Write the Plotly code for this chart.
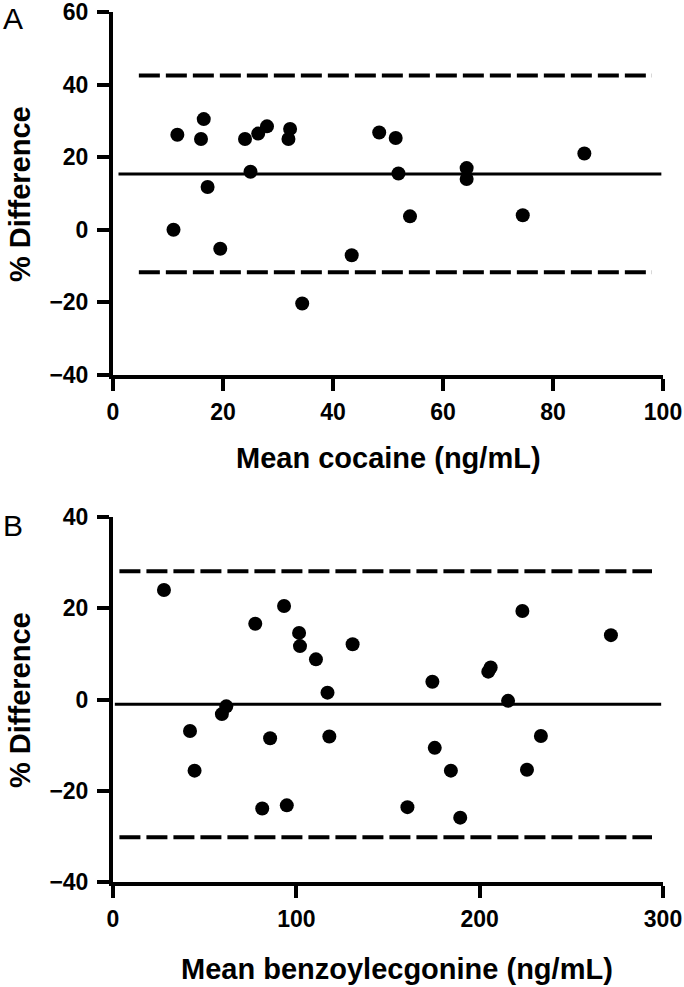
import plotly.graph_objects as go

# --- Panel A: cocaine ---
cocaine_mean = [11.7, 16.5, 16.0, 17.2, 24.0, 25.0, 26.4, 28.0, 32.2, 31.9,
                48.4, 51.4, 51.9, 64.3, 64.3, 85.7,
                11.0, 19.5, 34.4, 43.4, 54.0, 74.5]
cocaine_diff = [26.2, 30.5, 25.0, 11.8, 25.0, 16.0, 26.5, 28.5, 27.8, 25.0,
                26.8, 25.3, 15.5, 17.0, 14.0, 21.0,
                0.0, -5.2, -20.3, -7.0, 3.7, 4.0]
cocaine_bias = 15.4
cocaine_loa = [42.5, -11.7]
cocaine_bias_x = [1, 99.7]
cocaine_loa_x = [4.7, 98]

# --- Panel B: benzoylecgonine ---
bze_mean = [27.8, 77.6, 93.3, 101.5, 102.0, 110.7, 117.0,
            130.7, 174.2, 206.0, 204.7, 223.3, 271.6,
            42.0, 44.5, 59.4, 61.8, 81.4, 85.7, 94.8, 118.0,
            160.6, 175.5, 184.3, 189.4, 215.5, 225.8, 233.4]
bze_diff = [24.0, 16.6, 20.5, 14.6, 11.7, 8.8, 1.5,
            12.1, 3.9, 7.0, 6.1, 19.4, 14.1,
            -6.9, -15.6, -3.2, -1.5, -23.9, -8.5, -23.2, -8.1,
            -23.6, -10.6, -15.6, -25.9, -0.3, -15.4, -8.0]
bze_bias = -1.05
bze_loa = [28.1, -30.2]
bze_bias_x = [1, 299]
bze_loa_x = [3.5, 294]

W, H = 684, 987
FONT = "Liberation Sans, Arial, sans-serif"


# pixel -> paper fraction
def px_x(p):
    return p / W


def px_y(p):
    return 1 - p / H


fig = go.Figure()


def add_panel(xs, ys, bias, loa, bias_x, loa_x, xa, ya):
    fig.add_trace(go.Scatter(
        x=xs, y=ys, mode="markers", xaxis=xa, yaxis=ya,
        marker=dict(color="black", size=14),
    ))
    fig.add_trace(go.Scatter(
        x=bias_x, y=[bias, bias], mode="lines", xaxis=xa, yaxis=ya,
        line=dict(color="black", width=3),
    ))
    for v in loa:
        fig.add_trace(go.Scatter(
            x=loa_x, y=[v, v], mode="lines", xaxis=xa, yaxis=ya,
            line=dict(color="black", width=4, dash="21px,6px"),
        ))


add_panel(cocaine_mean, cocaine_diff, cocaine_bias, cocaine_loa,
          cocaine_bias_x, cocaine_loa_x, "x", "y")
add_panel(bze_mean, bze_diff, bze_bias, bze_loa,
          bze_bias_x, bze_loa_x, "x2", "y2")

axis_common = dict(
    showline=True, linecolor="black", linewidth=4,
    ticks="outside", ticklen=12, tickwidth=4, tickcolor="black",
    showgrid=False, zeroline=False, automargin=False,
    ticklabeloverflow="allow",
    tickfont=dict(family=FONT, size=23, color="black", weight="bold"),
)

fig.update_layout(
    width=W, height=H,
    margin=dict(l=0, r=0, t=0, b=0, autoexpand=False),
    plot_bgcolor="white", paper_bgcolor="white",
    showlegend=False,
    xaxis=dict(domain=[px_x(113), px_x(663)], range=[0, 100],
               tickvals=[0, 20, 40, 60, 80, 100], anchor="y",
               ticklabelstandoff=1, **axis_common),
    yaxis=dict(domain=[px_y(375), px_y(12)], range=[-40, 60],
               tickvals=[-40, -20, 0, 20, 40, 60], anchor="x",
               ticklabelstandoff=4, **axis_common),
    xaxis2=dict(domain=[px_x(113), px_x(663)], range=[0, 300],
                tickvals=[0, 100, 200, 300], anchor="y2",
                ticklabelstandoff=1, **axis_common),
    yaxis2=dict(domain=[px_y(882), px_y(517)], range=[-40, 40],
                tickvals=[-40, -20, 0, 20, 40], anchor="x2",
                ticklabelstandoff=4, **axis_common),
)

bold = dict(family=FONT, size=29, color="black", weight="bold")
plain = dict(family=FONT, size=30, color="black")

annots = [
    ("A", 1, 0, "left", "top", 0, plain),
    ("B", 1, 507, "left", "top", 0, plain),
    ("% Difference", 20, 194, "center", "middle", -90, bold),
    ("% Difference", 20, 700, "center", "middle", -90, bold),
    ("Mean cocaine (ng/mL)", 388, 458, "center", "middle", 0, bold),
    ("Mean benzoylecgonine (ng/mL)", 397, 969, "center", "middle", 0, bold),
]
for text, x, y, xa, ya, ang, f in annots:
    fig.add_annotation(
        text=text, x=px_x(x), y=px_y(y), xref="paper", yref="paper",
        xanchor=xa, yanchor=ya, textangle=ang, showarrow=False, font=f,
    )

# strip the browser's default 8px body margin so the figure sits at (0, 0)
fig.write_html(
    "out.html",
    config={"displayModeBar": False},
    post_script="document.body.style.margin = '0';",
)
